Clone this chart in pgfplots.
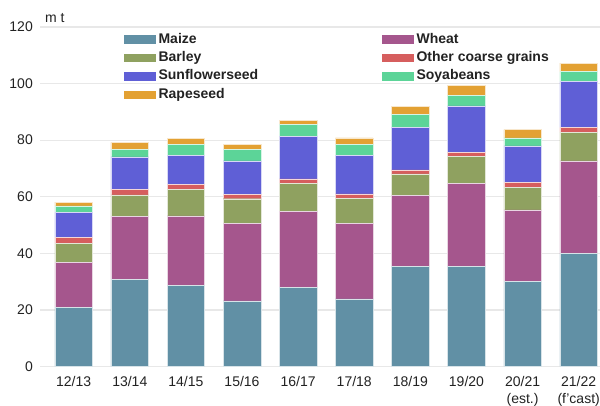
\documentclass[border=0pt]{standalone}
\usepackage{fontspec}
\setmainfont{Liberation Sans}
\usepackage{pgfplots}
\usepackage{pgfplotstable}
\pgfplotsset{compat=1.18}

\definecolor{cMaize}{HTML}{6190A5}
\definecolor{cWheat}{HTML}{A5568D}
\definecolor{cBarley}{HTML}{8FA160}
\definecolor{cOther}{HTML}{D65E5E}
\definecolor{cSunfl}{HTML}{5F5FD6}
\definecolor{cSoya}{HTML}{5CD498}
\definecolor{cRape}{HTML}{E3A133}
\definecolor{cGrid}{HTML}{E8E8E8}
\definecolor{cText}{HTML}{222222}

\newcommand\f{\fontsize{14}{16.5}\selectfont}

% m t, by season
\pgfplotstableread{
x maize wheat barley other sunfl soya rape
0 21.0 15.7 6.8 2.2 8.8 2.3 1.3
1 30.8 22.3 7.6 1.8 11.6 2.7 2.4
2 28.6 24.6 9.4 1.8 10.2 3.8 2.3
3 23.2 27.3 8.8 1.5 11.9 4.0 1.7
4 28.0 26.8 9.9 1.6 15.1 4.3 1.3
5 23.9 26.8 8.8 1.5 13.6 3.9 2.3
6 35.5 25.0 7.6 1.4 15.1 4.6 2.7
7 35.5 29.3 9.6 1.4 16.3 3.7 3.5
8 30.0 25.4 8.0 1.7 12.9 2.8 2.9
9 39.9 32.8 10.1 1.7 16.2 3.5 3.0
}\data

\pgfplotsset{
  seg/.style={fill=#1, draw=white!75!#1, line width=0.4pt,
    legend image code/.code={\fill[#1] (0pt,-3.7pt) rectangle (31pt,3.7pt);}},
}

\begin{document}
\begin{tikzpicture}
\useasboundingbox (0,0) rectangle (600pt,406pt);
\begin{axis}[
  at={(40pt,39.5pt)}, anchor=south west,
  scale only axis, width=560pt, height=339.5pt,
  ybar stacked, bar width=0.67,
  xmin=-0.6, xmax=9.38, ymin=0, ymax=120,
  xtick=data,
  xticklabels={12/13,13/14,14/15,15/16,16/17,17/18,18/19,19/20,{20/21\\(est.)},{21/22\\(f'cast)}},
  ytick={0,20,...,120},
  ymajorgrids, grid style={cGrid, line width=1.2pt},
  axis line style={draw=none}, major tick length=0pt,
  /pgf/number format/assume math mode=true,
  tick label style={font=\f, text=cText},
  xticklabel style={align=center, inner sep=0pt, yshift=-10pt},
  yticklabel style={inner sep=0pt, xshift=-7pt},
  legend columns=2,
  legend style={at={(axis description cs:0.1446,0.99)}, anchor=north west,
    draw=none, fill=none, font=\f\bfseries, text=cText, row sep=4.9pt,
    cells={anchor=west},
    nodes={inner sep=0pt, text height=10.5pt, text depth=3pt},
    /tikz/every odd column/.append style={column sep=3pt},
    /tikz/every even column/.append style={column sep=124pt}},
  clip=false,
]
\addplot[seg=cMaize] table[x=x, y=maize] {\data};
\addplot[seg=cWheat] table[x=x, y=wheat] {\data};
\addplot[seg=cBarley] table[x=x, y=barley] {\data};
\addplot[seg=cOther] table[x=x, y=other] {\data};
\addplot[seg=cSunfl] table[x=x, y=sunfl] {\data};
\addplot[seg=cSoya] table[x=x, y=soya] {\data};
\addplot[seg=cRape] table[x=x, y=rape] {\data};
\legend{Maize,Wheat,Barley,Other coarse grains,Sunflowerseed,Soyabeans,Rapeseed}
\node[anchor=south west, font=\f, text=cText, inner sep=0pt] at (rel axis cs:0,1) [xshift=5pt, yshift=4pt] {m t};
\end{axis}
\end{tikzpicture}
\end{document}
